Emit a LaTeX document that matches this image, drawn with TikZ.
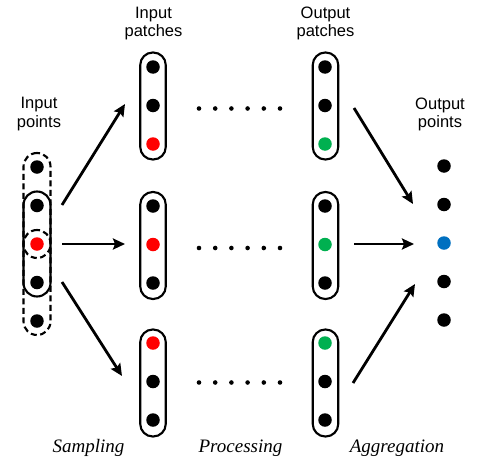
\documentclass[tikz,border=0pt]{standalone}
\usepackage{fontspec}
\setmainfont{Liberation Serif}
\setsansfont{Liberation Sans}
\usetikzlibrary{arrows.meta}
\definecolor{pred}{HTML}{FF0000}
\definecolor{pgreen}{HTML}{00B050}
\definecolor{pblue}{HTML}{0070C0}
\begin{document}
\begin{tikzpicture}[x=1pt,y=-1pt,
 pnt/.style={circle,fill=black,inner sep=0pt,minimum size=13.5pt},
 sdot/.style={circle,fill=black,inner sep=0pt,minimum size=4.6pt},
 capsule/.style={draw,line width=2.1pt,rounded corners=12.5pt,minimum width=25.5pt,minimum height=107pt,inner sep=0pt},
 icapsule/.style={draw,line width=2.1pt,rounded corners=13.5pt,minimum width=27pt,minimum height=105pt,inner sep=0pt},
 dcapsule/.style={icapsule,dash pattern=on 6pt off 3.5pt},
 arr/.style={line width=2.8pt,-{Stealth[length=12pt,width=11pt,inset=2pt]}},
 lbl/.style={font=\sffamily\fontsize{16.5}{18.5}\selectfont,align=center,inner sep=0pt,anchor=north},
 stage/.style={font=\itshape\fontsize{19}{22}\selectfont,inner sep=0pt,anchor=base}]
\useasboundingbox (0,0) rectangle (478,460);

% labels
\node[lbl] (lip) at (39,97) {Input\\points};
\node[lbl] (lipa) at (153.5,6.5) {Input\\patches};
\node[lbl] (lopa) at (325.5,6.5) {Output\\patches};
\node[lbl] (lop) at (440,97.5) {Output\\points};
\node[stage] (s1) at (88.5,452) {Sampling};
\node[stage] (s2) at (240.5,452) {Processing};
\node[stage] (s3) at (397,452) {Aggregation};

% input points
\node[dcapsule] (dc1) at (37,205.5) {};
\node[dcapsule] (dc2) at (37,282.5) {};
\node[icapsule] (sc) at (37,244) {};
\node[pnt] (ip1) at (37,167) {};
\node[pnt] (ip2) at (37,205.5) {};
\node[pnt,fill=pred] (ip3) at (37,244) {};
\node[pnt] (ip4) at (37,282.5) {};
\node[pnt] (ip5) at (37,321) {};

% input patches
\node[capsule] (ia) at (153,106) {};
\node[pnt] (ia1) at (153,67) {};
\node[pnt] (ia2) at (153,105.5) {};
\node[pnt,fill=pred] (ia3) at (153,144) {};
\node[capsule] (ib) at (153,245.5) {};
\node[pnt] (ib1) at (153,206) {};
\node[pnt,fill=pred] (ib2) at (153,244.5) {};
\node[pnt] (ib3) at (153,283) {};
\node[capsule] (ic) at (153,383) {};
\node[pnt,fill=pred] (ic1) at (153,343) {};
\node[pnt] (ic2) at (153,381.5) {};
\node[pnt] (ic3) at (153,420) {};

% output patches
\node[capsule] (oa) at (325.5,106) {};
\node[pnt] (oa1) at (325,67) {};
\node[pnt] (oa2) at (325,105.5) {};
\node[pnt,fill=pgreen] (oa3) at (325,144) {};
\node[capsule] (ob) at (325.5,245.5) {};
\node[pnt] (ob1) at (325,206) {};
\node[pnt,fill=pgreen] (ob2) at (325,244.5) {};
\node[pnt] (ob3) at (325,283) {};
\node[capsule] (oc) at (325.5,383) {};
\node[pnt,fill=pgreen] (oc1) at (325,343) {};
\node[pnt] (oc2) at (325,381.5) {};
\node[pnt] (oc3) at (325,420) {};

% ellipsis dots
\foreach \r/\yy in {a/108.5,b/248,c/382.5}{
  \foreach \k in {0,...,5}{
    \node[sdot] (e\r\k) at (199+16.2*\k,\yy) {};
  }
}

% output points
\node[pnt] (op1) at (444,166) {};
\node[pnt] (op2) at (444,204.5) {};
\node[pnt,fill=pblue] (op3) at (444,243) {};
\node[pnt] (op4) at (444,281.5) {};
\node[pnt] (op5) at (444,320) {};

% arrow end points
\coordinate (a1s) at (62,205);  \coordinate (a1e) at (125,104);
\coordinate (a2s) at (62,244);  \coordinate (a2e) at (125,244);
\coordinate (a3s) at (62,282);  \coordinate (a3e) at (122,376);
\coordinate (b1s) at (354,108); \coordinate (b1e) at (413,204);
\coordinate (b2s) at (354,244); \coordinate (b2e) at (414,244);
\coordinate (b3s) at (353,383); \coordinate (b3e) at (415,284);

\draw[arr] (a1s) -- (a1e);
\draw[arr] (a2s) -- (a2e);
\draw[arr] (a3s) -- (a3e);
\draw[arr] (b1s) -- (b1e);
\draw[arr] (b2s) -- (b2e);
\draw[arr] (b3s) -- (b3e);
\end{tikzpicture}
\end{document}
